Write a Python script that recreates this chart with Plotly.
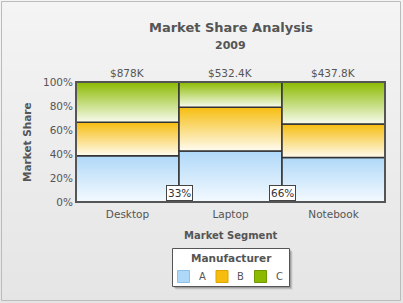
import plotly.graph_objects as go

# ---- data ----
segments = ["Desktop", "Laptop", "Notebook"]
segment_totals_k = [878, 532.4, 437.8]          # $K, shown above columns
manufacturers = ["A", "B", "C"]
share_A = [38.5, 42.5, 37.0]                     # % of each segment
share_B = [28.0, 36.5, 28.0]
share_C = [33.5, 21.0, 35.0]
boundary_labels = ["33%", "66%"]
y_ticks = [0, 20, 40, 60, 80, 100]

shares = {"A": share_A, "B": share_B, "C": share_C}
top_colors = {"A": "#AFD8F8", "B": "#F6BD0F", "C": "#8BBA00"}
bottom_colors = {"A": "#F4FAFF", "B": "#FFFBF0", "C": "#F7FBEE"}
legend_colors = {"A": "#AFD8F8", "B": "#F6BD0F", "C": "#8BBA00"}
legend_lines = {"A": "#8FC0E6", "B": "#DDA500", "C": "#6F9800"}

W, H = 403, 303
L, R, T, B = 76, 18, 82, 101
PW, PH = W - L - R, H - T - B
FONT = "DejaVu Sans"
TXT = "#555555"
TICK = 10.5


def px_x(px):
    return (px - L) / PW


def px_y(py):
    return (H - B - py) / PH


fig = go.Figure()

n = len(segments)
col_w = 100.0 / n
edges = [i * col_w for i in range(n + 1)]
centers = [(edges[i] + edges[i + 1]) / 2 for i in range(n)]

for i in range(n):
    base = 0.0
    x0, x1 = edges[i], edges[i + 1]
    for m in manufacturers:
        v = shares[m][i]
        y0, y1 = base, base + v
        fig.add_trace(go.Scatter(
            x=[x0, x1, x1, x0, x0], y=[y0, y0, y1, y1, y0],
            mode="lines", fill="toself", name=m,
            fillgradient=dict(type="vertical",
                              colorscale=[[0, bottom_colors[m]], [1, top_colors[m]]]),
            line=dict(color="#333333", width=1.5),
            hoverinfo="skip", showlegend=False,
        ))
        base = y1

annotations = []
# totals above columns
for c, t in zip(centers, segment_totals_k):
    txt = f"${t:g}K"
    annotations.append(dict(x=c, y=100, xref="x", yref="y", text=txt, showarrow=False,
                            xanchor="center", yanchor="bottom", yshift=1,
                            font=dict(family=FONT, size=TICK, color=TXT)))
# boundary labels
for e, lab in zip(edges[1:-1], boundary_labels):
    annotations.append(dict(x=e, y=0, xref="x", yref="y", text=lab, showarrow=False,
                            xanchor="center", yanchor="bottom", yshift=1, bgcolor="white",
                            bordercolor="#444444", borderwidth=1, borderpad=1,
                            font=dict(family=FONT, size=TICK, color="#333333")))
# titles
annotations += [
    dict(x=0.5, y=px_y(27), xref="paper", yref="paper", text="<b>Market Share Analysis</b>",
         showarrow=False, xanchor="center", yanchor="middle",
         font=dict(family=FONT, size=13, color=TXT)),
    dict(x=0.5, y=px_y(45), xref="paper", yref="paper", text="<b>2009</b>",
         showarrow=False, xanchor="center", yanchor="middle",
         font=dict(family=FONT, size=11, color=TXT)),
    dict(x=0.5, y=px_y(235), xref="paper", yref="paper", text="<b>Market Segment</b>",
         showarrow=False, xanchor="center", yanchor="middle",
         font=dict(family=FONT, size=10, color=TXT)),
    dict(x=px_x(27), y=0.5, xref="paper", yref="paper", text="<b>Market Share</b>",
         showarrow=False, textangle=-90, xanchor="center", yanchor="middle",
         font=dict(family=FONT, size=10.5, color=TXT)),
]

shapes = []
# background gradient bands
nb = 30
top_g, bot_g = (0xF4, 0xF4, 0xF4), (0xE5, 0xE5, 0xE5)
for k in range(nb):
    f = k / (nb - 1)
    c = tuple(round(top_g[j] + (bot_g[j] - top_g[j]) * f) for j in range(3))
    shapes.append(dict(type="rect", xref="paper", yref="paper", layer="below",
                       x0=px_x(0), x1=px_x(W),
                       y0=px_y((k + 1) * H / nb + 0.5), y1=px_y(k * H / nb),
                       fillcolor="rgb(%d,%d,%d)" % c, line=dict(width=0)))
# outer border
shapes.append(dict(type="rect", xref="paper", yref="paper", layer="above",
                   x0=px_x(1.5), x1=px_x(400.5), y0=px_y(300.5), y1=px_y(1.5),
                   line=dict(color="#BBBBBB", width=1)))
# plot border
shapes.append(dict(type="rect", xref="paper", yref="paper", layer="above",
                   x0=0, x1=1, y0=0, y1=1, line=dict(color="#555555", width=2)))

# ---- legend box (drawn) ----
LX0, LX1, LY0, LY1 = 172.5, 289.5, 248.5, 286.5
for off, col in [(3, "rgba(0,0,0,0.10)"), (2, "rgba(0,0,0,0.15)"), (1, "rgba(0,0,0,0.2)")]:
    shapes.append(dict(type="rect", xref="paper", yref="paper", layer="above",
                       x0=px_x(LX0 + off), x1=px_x(LX1 + off),
                       y0=px_y(LY1 + off), y1=px_y(LY0 + off),
                       fillcolor=col, line=dict(width=0)))
shapes.append(dict(type="rect", xref="paper", yref="paper", layer="above",
                   x0=px_x(LX0), x1=px_x(LX1), y0=px_y(LY1), y1=px_y(LY0),
                   fillcolor="white", line=dict(color="#555555", width=1)))
annotations.append(dict(x=px_x((LX0 + LX1) / 2), y=px_y(258), xref="paper", yref="paper",
                        text="<b>Manufacturer</b>", showarrow=False,
                        xanchor="center", yanchor="middle",
                        font=dict(family=FONT, size=10.5, color=TXT)))
item_x0 = 177
item_step = 38.5
for k, m in enumerate(manufacturers):
    sx = item_x0 + k * item_step
    shapes.append(dict(type="rect", xref="paper", yref="paper", layer="above",
                       x0=px_x(sx + 0.5), x1=px_x(sx + 12.5),
                       y0=px_y(282.5), y1=px_y(270.5),
                       fillcolor=legend_colors[m], line=dict(color=legend_lines[m], width=1)))
    annotations.append(dict(x=px_x(sx + 25), y=px_y(276.5), xref="paper", yref="paper",
                            text=m, showarrow=False, xanchor="center", yanchor="middle",
                            font=dict(family=FONT, size=10, color=TXT)))

fig.update_layout(
    width=W, height=H,
    margin=dict(l=L, r=R, t=T, b=B),
    paper_bgcolor="#ECECEC", plot_bgcolor="white",
    font=dict(family=FONT, size=10, color=TXT),
    xaxis=dict(range=[0, 100], tickvals=centers, ticktext=segments, showgrid=False,
               zeroline=False, showline=False, ticks="", fixedrange=True,
               ticklabelstandoff=4,
               tickfont=dict(family=FONT, size=TICK, color=TXT)),
    yaxis=dict(range=[0, 100], tickvals=y_ticks, ticktext=[f"{v}%" for v in y_ticks],
               showgrid=False, zeroline=False, showline=False, ticks="", fixedrange=True,
               ticklabelstandoff=2,
               tickfont=dict(family=FONT, size=TICK, color=TXT)),
    annotations=annotations,
    shapes=shapes,
    showlegend=False,
)

fig.write_html("out.html")
